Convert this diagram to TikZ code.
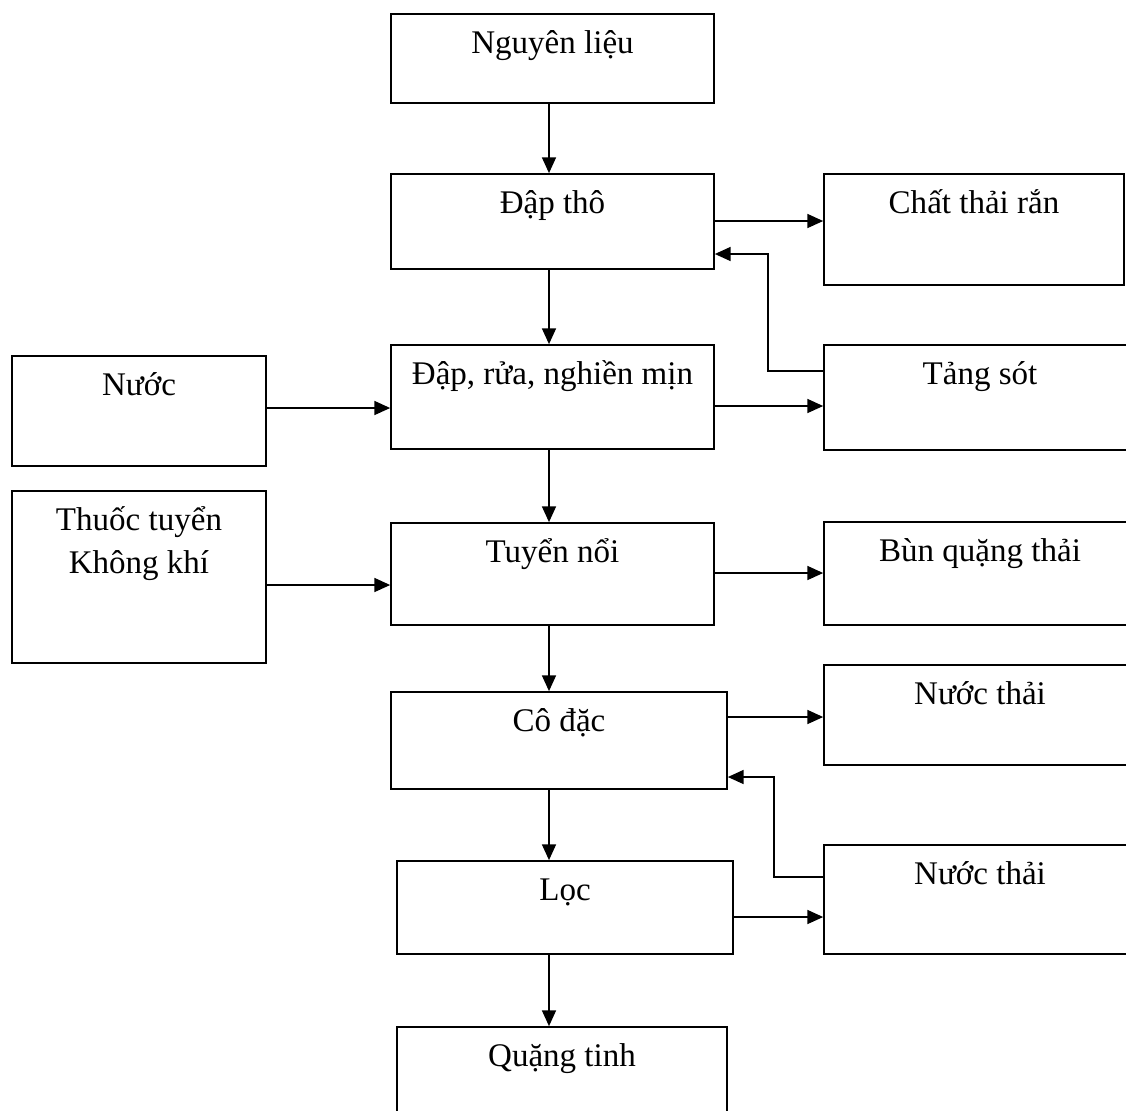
\documentclass[tikz,border=0pt]{standalone}
\usepackage{fontspec}
\setmainfont{Liberation Serif}
\usetikzlibrary{arrows.meta}
\tikzset{
  box/.style={draw, line width=1pt, inner sep=0pt,
    label={[anchor=north, inner sep=8.6pt, text height=14.1pt]north:#1}},
  flow/.style={line width=0.8pt, -{Triangle[length=9pt,width=8pt]}}
}

\begin{document}
\begin{tikzpicture}[x=0.02cm, y=-0.02cm, font=\fontsize{18.8}{24.4}\selectfont]
      \useasboundingbox (0,0) rectangle (1126,1110);
      % main line
      \node[box={Nguyên liệu}, minimum width=6.46cm, minimum height=1.78cm] (raw) at (552.5,58.5) {};
      \node[box={Đập thô}, minimum width=6.46cm, minimum height=1.9cm] (dapTho) at (552.5,221.5) {};
      \node[box={Đập, rửa, nghiền mịn}, minimum width=6.46cm, minimum height=2.08cm] (nghien) at (552.5,397) {};
      \node[box={Tuyển nổi}, minimum width=6.46cm, minimum height=2.04cm] (tuyen) at (552.5,574) {};
      \node[box={Cô đặc}, minimum width=6.72cm, minimum height=1.94cm] (coDac) at (559,740.5) {};
      \node[box={Lọc}, minimum width=6.72cm, minimum height=1.86cm] (loc) at (565,907.5) {};
      \node[box={Quặng tinh}, minimum width=6.6cm, minimum height=2.46cm] (quang) at (562,1088.5) {};
      % inputs
      \node[box={Nước}, minimum width=5.08cm, minimum height=2.2cm] (nuoc) at (139,411) {};
      \node[box={\begin{tabular}[t]{@{}c@{}}Thuốc tuyển\\Không khí\end{tabular}},
            minimum width=5.08cm, minimum height=3.44cm] (thuoc) at (139,577) {};
      % outputs
      \node[box={Chất thải rắn}, minimum width=6cm, minimum height=2.22cm] (chatThai) at (974,229.5) {};
      \node[box={Tảng sót}, minimum width=6.24cm, minimum height=2.1cm] (tangSot) at (980,397.5) {};
      \node[box={Bùn quặng thải}, minimum width=6.24cm, minimum height=2.06cm] (bun) at (980,573.5) {};
      \node[box={Nước thải}, minimum width=6.24cm, minimum height=2cm] (nuocThai1) at (980,715) {};
      \node[box={Nước thải}, minimum width=6.24cm, minimum height=2.18cm] (nuocThai2) at (980,899.5) {};

      \coordinate (axis) at (549,0);
      \draw[flow] (raw.south -| axis) -- (dapTho.north -| axis);
      \draw[flow] (dapTho.south -| axis) -- (nghien.north -| axis);
      \draw[flow] (nghien.south -| axis) -- (tuyen.north -| axis);
      \draw[flow] (tuyen.south -| axis) -- (coDac.north -| axis);
      \draw[flow] (coDac.south -| axis) -- (loc.north -| axis);
      \draw[flow] (loc.south -| axis) -- (quang.north -| axis);

      \draw[flow] (dapTho.east |- 0,221) -- (chatThai.west |- 0,221);
      \draw[flow] (tangSot.west |- 0,371) -| (768,254) -- (dapTho.east |- 0,254);
      \draw[flow] (nuoc.east |- 0,408) -- (nghien.west |- 0,408);
      \draw[flow] (nghien.east |- 0,406) -- (tangSot.west |- 0,406);
      \draw[flow] (thuoc.east |- 0,585) -- (tuyen.west |- 0,585);
      \draw[flow] (tuyen.east |- 0,573) -- (bun.west |- 0,573);
      \draw[flow] (coDac.east |- 0,717) -- (nuocThai1.west |- 0,717);
      \draw[flow] (nuocThai2.west |- 0,877) -| (774,777) -- (coDac.east |- 0,777);
      \draw[flow] (loc.east |- 0,917) -- (nuocThai2.west |- 0,917);
    \end{tikzpicture}
\end{document}
